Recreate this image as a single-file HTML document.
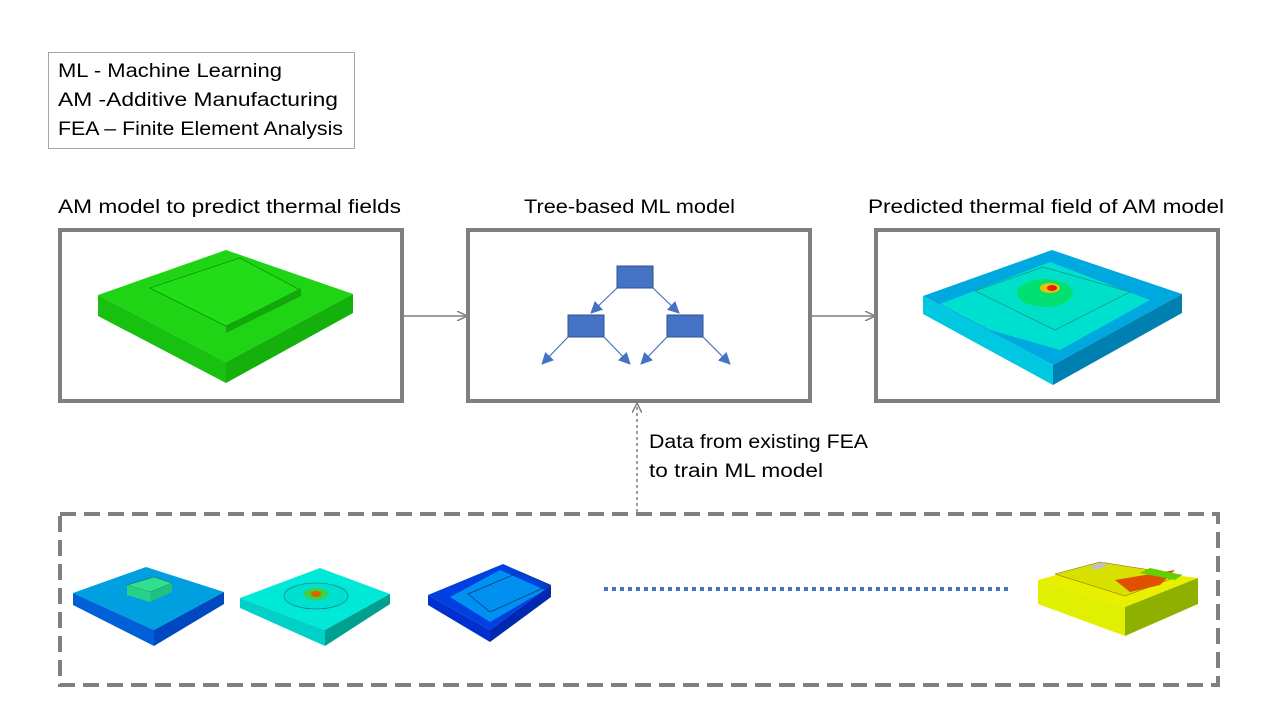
<!DOCTYPE html>
<html><head><meta charset="utf-8"><style>html,body{margin:0;padding:0;background:#fff}svg{display:block}text{font-family:"Liberation Sans",sans-serif;fill:#000}</style></head>
<body>
<svg width="1280" height="720" viewBox="0 0 1280 720" xmlns="http://www.w3.org/2000/svg">
<defs>
<marker id="ga" markerWidth="10" markerHeight="10" refX="9" refY="5" orient="auto" markerUnits="userSpaceOnUse"><path d="M0,0 L10,5 L0,10" fill="none" stroke="#7f7f7f" stroke-width="1.5"/></marker>
<marker id="ba" markerWidth="12" markerHeight="12" refX="11" refY="6" orient="auto" markerUnits="userSpaceOnUse"><path d="M0,0 L12,6 L0,12 z" fill="#4472c4"/></marker>
</defs>
<!-- legend -->
<rect x="48.5" y="52.5" width="306" height="96" fill="none" stroke="#a6a6a6" stroke-width="1"/>
<text x="58" y="77" font-size="19" textLength="224" lengthAdjust="spacingAndGlyphs">ML - Machine Learning</text>
<text x="58" y="106" font-size="19" textLength="280" lengthAdjust="spacingAndGlyphs">AM -Additive Manufacturing</text>
<text x="58" y="135" font-size="19" textLength="285" lengthAdjust="spacingAndGlyphs">FEA – Finite Element Analysis</text>
<!-- titles -->
<text x="58" y="213" font-size="19" textLength="343" lengthAdjust="spacingAndGlyphs">AM model to predict thermal fields</text>
<text x="524" y="213" font-size="19" textLength="211" lengthAdjust="spacingAndGlyphs">Tree-based ML model</text>
<text x="868" y="213" font-size="19" textLength="356" lengthAdjust="spacingAndGlyphs">Predicted thermal field of AM model</text>
<!-- boxes -->
<rect x="60" y="230" width="342" height="171" fill="none" stroke="#7f7f7f" stroke-width="4"/>
<rect x="468" y="230" width="342" height="171" fill="none" stroke="#7f7f7f" stroke-width="4"/>
<rect x="876" y="230" width="342" height="171" fill="none" stroke="#7f7f7f" stroke-width="4"/>
<line x1="404" y1="316" x2="466" y2="316" stroke="#7f7f7f" stroke-width="1.5" marker-end="url(#ga)"/>
<line x1="812" y1="316" x2="874" y2="316" stroke="#7f7f7f" stroke-width="1.5" marker-end="url(#ga)"/>
<!-- green model -->
<polygon points="98,295 226,250 353,294 226,362" fill="#1ed414"/>
<polygon points="98,295 226,362 226,383 98,316" fill="#18c010"/>
<polygon points="226,362 353,294 353,313 226,383" fill="#14b00c"/>
<polygon points="150,288 240,258 300,290 226,326" fill="#22dc18" stroke="#0a7a06" stroke-width="0.6"/>
<polygon points="226,326 301,288 301,296 226,333" fill="#12a80a"/>
<!-- tree -->
<g stroke="#4472c4" stroke-width="1.2">
<line x1="617" y1="288" x2="591" y2="313" marker-end="url(#ba)"/>
<line x1="653" y1="288" x2="679" y2="313" marker-end="url(#ba)"/>
<line x1="568" y1="337" x2="542" y2="364" marker-end="url(#ba)"/>
<line x1="604" y1="337" x2="630" y2="364" marker-end="url(#ba)"/>
<line x1="667" y1="337" x2="641" y2="364" marker-end="url(#ba)"/>
<line x1="703" y1="337" x2="730" y2="364" marker-end="url(#ba)"/>
</g>
<rect x="617" y="266" width="36" height="22" fill="#4472c4" stroke="#2f528f"/>
<rect x="568" y="315" width="36" height="22" fill="#4472c4" stroke="#2f528f"/>
<rect x="667" y="315" width="36" height="22" fill="#4472c4" stroke="#2f528f"/>
<!-- predicted model -->
<polygon points="923,296 1052,250 1182,294 1053,365" fill="#00a8e0"/>
<polygon points="940,304 1050,262 1150,300 1060,350 990,330" fill="#00e0d0"/>
<polygon points="923,296 1053,365 1053,385 923,314" fill="#00c8e0"/>
<polygon points="1053,365 1182,294 1182,313 1053,385" fill="#0080b0"/>
<polygon points="975,291 1043,267 1130,292 1055,330" fill="#00e0c8" stroke="#208070" stroke-width="0.6"/>
<ellipse cx="1045" cy="293" rx="28" ry="14" fill="#00e070"/>
<ellipse cx="1050" cy="288" rx="10" ry="5" fill="#f0c000"/>
<ellipse cx="1052" cy="288" rx="5" ry="3" fill="#e02000"/>
<!-- dashed data arrow -->
<line x1="637" y1="512" x2="637" y2="404" stroke="#7f7f7f" stroke-width="1.5" stroke-dasharray="3,3" marker-end="url(#ga)"/>
<text x="649" y="448" font-size="19" textLength="219" lengthAdjust="spacingAndGlyphs">Data from existing FEA</text>
<text x="649" y="477" font-size="19" textLength="174" lengthAdjust="spacingAndGlyphs">to train ML model</text>
<!-- dashed box -->
<rect x="60" y="514" width="1158" height="171" fill="none" stroke="#7f7f7f" stroke-width="4" stroke-dasharray="16,8"/>
<!-- small models -->
<polygon points="73,593 146,567 224,592 154,630" fill="#00a0e0"/>
<polygon points="73,593 154,630 154,646 73,605" fill="#0060d8"/>
<polygon points="154,630 224,592 224,604 154,646" fill="#0048c0"/>
<polygon points="127,585 154,577 172,583 150,592" fill="#30e090" stroke="#206040" stroke-width="0.5"/>
<polygon points="127,585 150,592 150,602 127,595" fill="#28d088"/>
<polygon points="150,592 172,583 172,592 150,602" fill="#20c080"/>
<polygon points="240,598 320,568 390,594 325,630" fill="#00e8d8"/>
<polygon points="240,598 325,630 325,646 240,608" fill="#00d0c8"/>
<polygon points="325,630 390,594 390,604 325,646" fill="#00a090"/>
<ellipse cx="316" cy="596" rx="32" ry="13" fill="#00e0d0" stroke="#207070" stroke-width="0.6"/>
<ellipse cx="316" cy="594" rx="12" ry="6" fill="#40d040"/>
<ellipse cx="316" cy="594" rx="5" ry="3" fill="#e06000"/>
<polygon points="428,595 503,564 551,585 490,630" fill="#0040e0"/>
<polygon points="450,597 500,570 545,590 490,622" fill="#0090f0"/>
<polygon points="428,595 490,630 490,642 428,605" fill="#0030d0"/>
<polygon points="490,630 551,585 551,597 490,642" fill="#0028b0"/>
<polygon points="468,594 520,572 550,585 490,612" fill="none" stroke="#103070" stroke-width="0.7"/>
<!-- dotted line -->
<line x1="604" y1="589" x2="1010" y2="589" stroke="#4472c4" stroke-width="4" stroke-dasharray="4,4"/>
<!-- yellow model -->
<polygon points="1038,580 1092,565 1198,578 1125,607" fill="#e8f000"/>
<polygon points="1038,580 1125,607 1125,636 1038,604" fill="#e0f000"/>
<polygon points="1125,607 1198,578 1198,604 1125,636" fill="#90b000"/>
<polygon points="1055,574 1100,562 1182,575 1125,596" fill="#d8e000" stroke="#806000" stroke-width="0.5"/>
<polygon points="1115,580 1175,570 1160,585 1130,592" fill="#e05000"/>
<polygon points="1150,568 1182,575 1175,580 1140,573" fill="#60d000"/>
<polygon points="1090,566 1102,562 1108,566 1094,570" fill="#c0c0c0"/>
</svg>
</body></html>
